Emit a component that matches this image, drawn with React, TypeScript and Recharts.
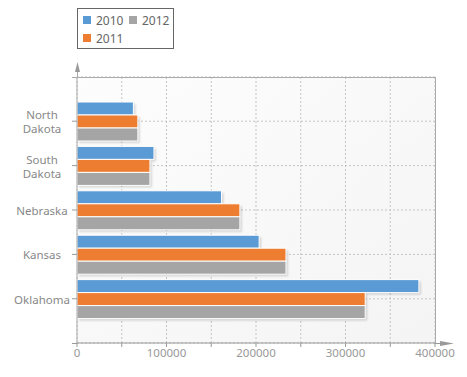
import React from "react";
import { BarChart, Bar, XAxis, YAxis, CartesianGrid } from "recharts";

const states = ["North Dakota", "South Dakota", "Nebraska", "Kansas", "Oklahoma"];
const values2010 = [63000, 86000, 161500, 203500, 382000];
const values2011 = [68000, 81500, 182000, 233500, 322000];
const values2012 = [68000, 81500, 182000, 233500, 322000];
const xTicks = [0, 50000, 100000, 150000, 200000, 250000, 300000, 350000, 400000];

const series = [
  { key: "y2010", name: "2010", color: "#5b9bd5" },
  { key: "y2011", name: "2011", color: "#ed7d31" },
  { key: "y2012", name: "2012", color: "#a5a5a5" },
];

const data = states.map((state, i) => ({
  state,
  y2010: values2010[i],
  y2011: values2011[i],
  y2012: values2012[i],
}));

const W = 467;
const H = 377;
const margin = { top: 77, right: 32, bottom: 4, left: 0 };
const Y_AXIS_W = 77;
const X_AXIS_H = 30;
const plotLeft = margin.left + Y_AXIS_W;
const plotRight = W - margin.right;
const plotTop = margin.top;
const plotBottom = H - margin.bottom - X_AXIS_H;
const font = "'Noto Sans', 'Open Sans', sans-serif";

const StateTick = (props: any) => {
  const { x, y, payload } = props;
  const words = String(payload.value).split(" ");
  const lineH = 14;
  const startY = y - ((words.length - 1) * lineH) / 2;
  return (
    <text x={x - 28} y={startY} textAnchor="middle" fill="#888" fontSize={11.5} fontFamily={font} dominantBaseline="central">
      {words.map((w, i) => (
        <tspan key={w} x={x - 28} dy={i === 0 ? 0 : lineH}>
          {w}
        </tspan>
      ))}
    </text>
  );
};

const ValueTick = (props: any) => {
  const { x, y, payload } = props;
  if (payload.value % 100000 !== 0) return null;
  return (
    <text x={x} y={y + 8} textAnchor="middle" fill="#999" fontSize={11.5} fontFamily={font}>
      {payload.value}
    </text>
  );
};

const ShadowBar = (props: any) => {
  const { x, y, width, height, fill } = props;
  if (!width || width <= 0) return null;
  return (
    <g>
      <rect x={x + 2} y={y + 2} width={width} height={height} fill="#000" opacity={0.15} filter="url(#barBlur)" />
      <rect x={x} y={y} width={width} height={height} fill={fill} stroke="#fff" strokeWidth={1} />
    </g>
  );
};

function LegendBox() {
  const order = [series[0], series[2], series[1]];
  return (
    <div
      style={{
        position: "absolute",
        left: plotLeft,
        top: 8,
        width: 97,
        height: 41,
        boxSizing: "border-box",
        border: "1px solid #666",
        background: "#fff",
        fontFamily: font,
        fontSize: 12,
        color: "#666",
      }}
    >
      {order.map((s, i) => (
        <div
          key={s.key}
          style={{
            position: "absolute",
            left: i < 2 ? 5 + i * 46 : 5,
            top: i < 2 ? 4 : 22,
            display: "flex",
            alignItems: "center",
            height: 14,
          }}
        >
          <span style={{ display: "inline-block", width: 8, height: 8, background: s.color, marginRight: 5 }} />
          <span>{s.name}</span>
        </div>
      ))}
    </div>
  );
}

export default function App() {
  return (
    <div style={{ position: "absolute", left: 0, top: 0, width: W, height: H, background: "#fff" }}>
      <BarChart width={W} height={H} data={data} layout="vertical" margin={margin} barGap={0} barSize={13}>
        <defs>
          <filter id="barBlur" x="-10%" y="-50%" width="120%" height="200%">
            <feGaussianBlur stdDeviation="1" />
          </filter>
          <linearGradient id="plotBg" x1="0" y1="0" x2="1" y2="1">
            <stop offset="0%" stopColor="#fdfdfd" />
            <stop offset="100%" stopColor="#f4f4f4" />
          </linearGradient>
        </defs>
        <CartesianGrid fill="url(#plotBg)" stroke="#c4c4c4" strokeDasharray="2 2" />
        <XAxis
          type="number"
          domain={[0, 400000]}
          ticks={xTicks}
          interval={0}
          height={X_AXIS_H}
          axisLine={{ stroke: "#999" }}
          tickLine={{ stroke: "#999" }}
          tickSize={4}
          tick={<ValueTick />}
        />
        <YAxis
          type="category"
          dataKey="state"
          width={Y_AXIS_W}
          padding={{ top: 22, bottom: 22 }}
          axisLine={{ stroke: "#aaa" }}
          tickLine={{ stroke: "#999" }}
          tickSize={5}
          tick={<StateTick />}
        />
        {series.map((s) => (
          <Bar key={s.key} dataKey={s.key} name={s.name} fill={s.color} isAnimationActive={false} shape={<ShadowBar />} />
        ))}
      </BarChart>
      <svg width={W} height={H} style={{ position: "absolute", left: 0, top: 0, pointerEvents: "none" }}>
        {/* plot frame: top and right */}
        <line x1={plotLeft - 5} y1={plotTop + 0.5} x2={plotRight + 0.5} y2={plotTop + 0.5} stroke="#aaa" />
        <line x1={plotRight + 0.5} y1={plotTop} x2={plotRight + 0.5} y2={plotBottom} stroke="#aaa" />
        {/* axis arrows */}
        <line x1={plotLeft + 0.5} y1={plotTop} x2={plotLeft + 0.5} y2={plotTop - 6} stroke="#aaa" />
        <polygon points={`${plotLeft - 2},${plotTop - 5} ${plotLeft + 3},${plotTop - 5} ${plotLeft + 0.5},${plotTop - 15}`} fill="#999" />
        <line x1={plotLeft - 5} y1={plotBottom + 0.5} x2={plotLeft} y2={plotBottom + 0.5} stroke="#999" />
        <line x1={plotRight} y1={plotBottom + 0.5} x2={plotRight + 6} y2={plotBottom + 0.5} stroke="#999" />
        <polygon points={`${plotRight + 5},${plotBottom - 2} ${plotRight + 5},${plotBottom + 3} ${plotRight + 19},${plotBottom + 0.5}`} fill="#999" />
      </svg>
      <LegendBox />
    </div>
  );
}
